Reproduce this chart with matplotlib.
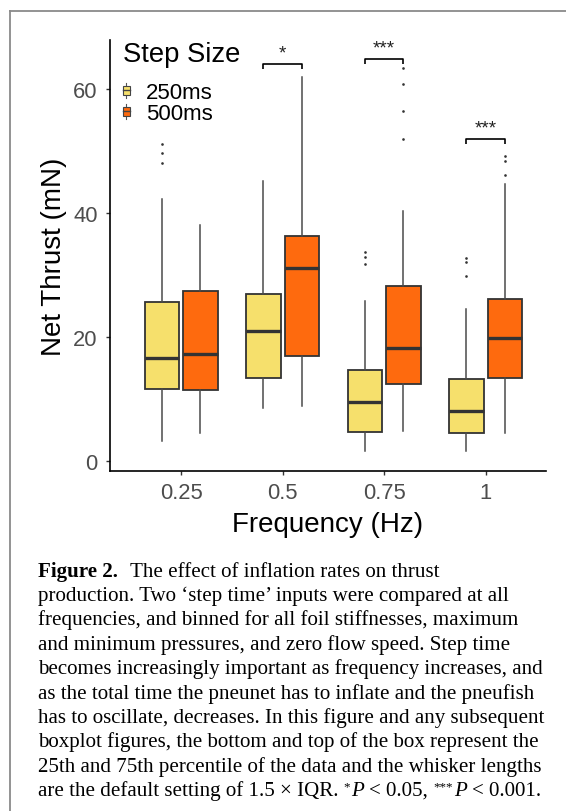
import matplotlib
matplotlib.use("Agg")
import matplotlib.pyplot as plt
from matplotlib.legend_handler import HandlerBase
from matplotlib.lines import Line2D
from matplotlib.patches import Rectangle, Patch

# ---------------- data ----------------
freq_labels = ['0.25', '0.5', '0.75', '1']
series_names = ['250ms', '500ms']

q1_250 = [11.6, 13.4, 4.7, 4.5]
med_250 = [16.7, 21.0, 9.5, 8.1]
q3_250 = [25.6, 27.0, 14.7, 13.3]
lo_250 = [3.2, 8.5, 1.7, 1.6]
hi_250 = [42.3, 45.2, 25.8, 24.5]
out_250 = [[51.2, 49.7, 48.0], [], [33.7, 32.9, 31.8], [32.7, 32.1, 29.9]]

q1_500 = [11.5, 16.9, 12.5, 13.4]
med_500 = [17.3, 31.1, 18.2, 19.8]
q3_500 = [27.4, 36.3, 28.3, 26.2]
lo_500 = [4.6, 8.9, 4.9, 4.6]
hi_500 = [38.0, 62.0, 40.3, 44.6]
out_500 = [[], [], [63.4, 60.8, 56.5, 51.9], [49.2, 48.4, 46.1]]

sig_groups = [1, 2, 3]
sig_heights = [64.0, 64.8, 51.9]
sig_labels = ['*', '***', '***']

yticks = [0, 20, 40, 60]

caption_bold = "Figure 2."
caption_first = "The effect of inflation rates on thrust"
caption_lines = [
    "production. Two \u2018step time\u2019 inputs were compared at all",
    "frequencies, and binned for all foil stiffnesses, maximum",
    "and minimum pressures, and zero flow speed. Step time",
    "becomes increasingly important as frequency increases, and",
    "as the total time the pneunet has to inflate and the pneufish",
    "has to oscillate, decreases. In this figure and any subsequent",
    "boxplot figures, the bottom and top of the box represent the",
    "25th and 75th percentile of the data and the whisker lengths",
]
# last line pieces: (text, kind)
caption_last = [
    ("are the default setting of 1.5 \u00d7 IQR.", 'rm'),
    ("*", 'sup'),
    ("P", 'it'),
    ("< 0.05,", 'rm'),
    ("***", 'sup'),
    ("P", 'it'),
    ("< 0.001.", 'rm'),
]

# ---------------- style ----------------
colors = ['#F6E06C', '#FE6A0E']
edge = '#333333'
sans = 'Liberation Sans'
serif = 'Liberation Serif'

W, H = 566, 812
fig = plt.figure(figsize=(W / 100, H / 100), dpi=100)

# frame lines (top and left)
fig.add_artist(Line2D([9.5 / W, 9.5 / W], [0, 1 - 11.5 / H], transform=fig.transFigure,
                      color='#8a8a8a', lw=1.3))
fig.add_artist(Line2D([9.5 / W, 1], [1 - 11.5 / H, 1 - 11.5 / H], transform=fig.transFigure,
                      color='#8a8a8a', lw=1.3))

ax = fig.add_axes([110 / W, 1 - 472 / H, (545.5 - 110) / W, (472 - 41) / H])

offset = 0.19
bw = 0.34


def stats(q1, med, q3, lo, hi, out):
    return [dict(q1=a, med=b, q3=c, whislo=d, whishi=e, fliers=f)
            for a, b, c, d, e, f in zip(q1, med, q3, lo, hi, out)]


groups = [stats(q1_250, med_250, q3_250, lo_250, hi_250, out_250),
          stats(q1_500, med_500, q3_500, lo_500, hi_500, out_500)]

for k, (st, col) in enumerate(zip(groups, colors)):
    pos = [i + (k - 0.5) * 2 * offset for i in range(len(freq_labels))]
    ax.bxp(st, positions=pos, widths=bw, patch_artist=True, showcaps=False,
           boxprops=dict(facecolor=col, edgecolor=edge, linewidth=1.3),
           medianprops=dict(color=edge, linewidth=2.4, solid_capstyle='butt'),
           whiskerprops=dict(color='#4a4a4a', linewidth=1.1),
           flierprops=dict(marker='o', markersize=1.9, markerfacecolor='#333333',
                           markeredgecolor='none'),
           zorder=2)

# significance brackets
for g, h, lab in zip(sig_groups, sig_heights, sig_labels):
    ax.plot([g - offset, g - offset, g + offset, g + offset], [h - 0.75, h, h, h - 0.75],
            color='black', lw=1.2, solid_capstyle='butt')
    ax.annotate(lab, (g, h), xytext=(0, 2), textcoords='offset points', ha='center',
                va='bottom', fontsize=13.5, family=sans, color='#222222')

ax.set_xlim(-0.7, 3.59)
ax.set_ylim(-1.6, 67.9)
ax.set_xticks(range(len(freq_labels)))
ax.set_xticklabels(freq_labels)
ax.set_yticks(yticks)
for s in ['top', 'right']:
    ax.spines[s].set_visible(False)
for s in ['left', 'bottom']:
    ax.spines[s].set_linewidth(1.2)
    ax.spines[s].set_color('black')
ax.tick_params(axis='both', length=3, width=1, color='#333333', labelcolor='#4d4d4d',
               labelsize=15.8)
ax.tick_params(axis='x', pad=5)
ax.tick_params(axis='y', pad=6)
for t in ax.get_xticklabels() + ax.get_yticklabels():
    t.set_family(sans)

ax.set_xlabel('Frequency (Hz)', fontsize=20, family=sans, labelpad=6)
ax.set_ylabel('Net Thrust (mN)', fontsize=20, family=sans, labelpad=4.5)


# legend with mini boxplot keys
class BoxKey(HandlerBase):
    def create_artists(self, legend, orig_handle, xdescent, ydescent, width, height,
                       fontsize, trans):
        cx = -xdescent + width / 2
        cy = -ydescent + height / 2
        fc = orig_handle.get_facecolor()
        ln = Line2D([cx, cx], [cy - 5.4, cy + 5.4], color='#555555', lw=0.8, transform=trans)
        rect = Rectangle((cx - 2.4, cy - 3.4), 4.8, 6.8, facecolor=fc, edgecolor='#444444',
                         lw=0.8, transform=trans)
        med = Line2D([cx - 2.4, cx + 2.4], [cy, cy], color='#444444', lw=1.0, transform=trans)
        return [ln, rect, med]


handles = [Patch(facecolor=c, label=n) for c, n in zip(colors, series_names)]
leg = ax.legend(handles=handles, handler_map={Patch: BoxKey()}, title='Step Size',
                loc='upper left', bbox_to_anchor=(13 / 435.5, 0.997), frameon=False,
                prop=dict(family=sans, size=16), title_fontproperties=dict(family=sans, size=19.7),
                handlelength=0.3, handleheight=0.8, handletextpad=0.73, labelspacing=0.0,
                borderpad=0, borderaxespad=0, alignment='left')
leg._legend_box.sep = 10.4

# caption
cap_left = 38 / W
line_h = 24.37
first_y = 571.7
fs_cap = 15.1
tb = fig.text(cap_left, 1 - first_y / H, caption_bold, family=serif, weight='bold',
              fontsize=fs_cap, va='center', ha='left')
ax.annotate(caption_first, xy=(1, 0), xycoords=tb, xytext=(9, 0), textcoords='offset points',
            family=serif, fontsize=fs_cap, va='bottom', ha='left', annotation_clip=False)
for j, line in enumerate(caption_lines):
    fig.text(cap_left, 1 - (first_y + (j + 1) * line_h) / H, line, family=serif,
             fontsize=fs_cap, va='center', ha='left')

# last line, assembled piece by piece
y_last = 1 - (first_y + (len(caption_lines) + 1) * line_h) / H
prev = None
for txt, kind in caption_last:
    if prev is None:
        prev = fig.text(cap_left, y_last, txt, family=serif, fontsize=fs_cap,
                        va='center', ha='left')
        continue
    if kind == 'sup':
        prev = ax.annotate(txt, xy=(1, 0), xycoords=prev, xytext=(3.8, 5.5),
                           textcoords='offset points', family=serif, fontsize=fs_cap * 0.62,
                           va='bottom', ha='left', annotation_clip=False)
    elif kind == 'it':
        prev = ax.annotate(txt, xy=(1, 0), xycoords=prev, xytext=(0.6, -5.5),
                           textcoords='offset points', family=serif, style='italic',
                           fontsize=fs_cap, va='bottom', ha='left', annotation_clip=False)
    else:
        prev = ax.annotate(txt, xy=(1, 0), xycoords=prev, xytext=(3.8, 0),
                           textcoords='offset points', family=serif, fontsize=fs_cap,
                           va='bottom', ha='left', annotation_clip=False)

fig.savefig('out.png', dpi=100)
